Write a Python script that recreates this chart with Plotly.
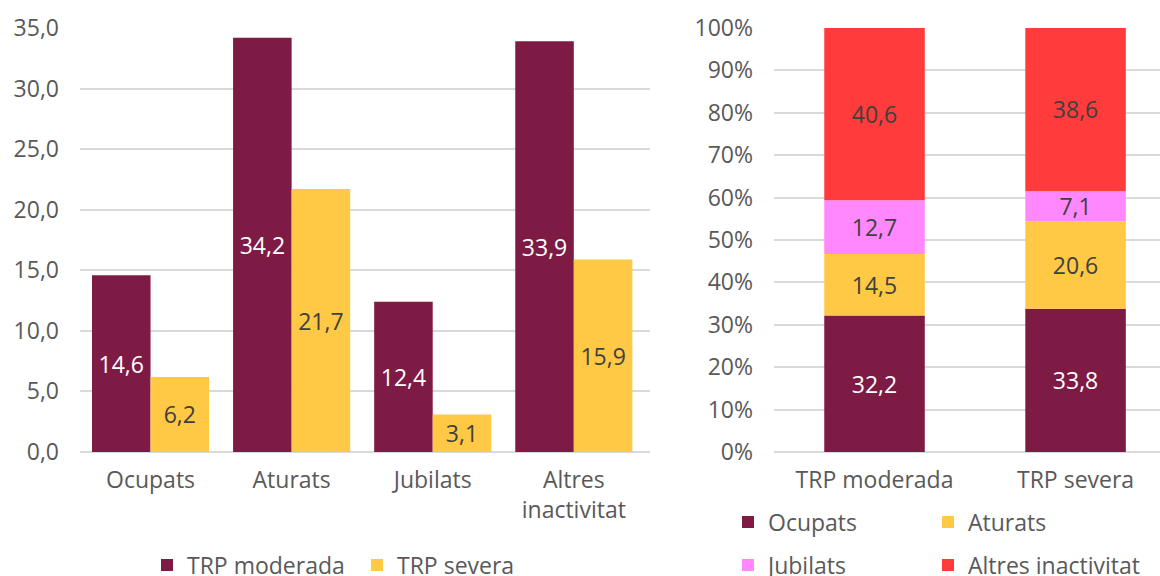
import numpy as np
import plotly.graph_objects as go

# ---- Left chart data ----
categories = ["Ocupats", "Aturats", "Jubilats", "Altres<br>inactivitat"]
trp_moderada = [14.6, 34.2, 12.4, 33.9]
trp_severa = [6.2, 21.7, 3.1, 15.9]

# ---- Right chart data ----
groups = ["TRP moderada", "TRP severa"]
ocupats = [32.2, 33.8]
aturats = [14.5, 20.6]
jubilats = [12.7, 7.1]
altres = [40.6, 38.6]

MAROON = "#7E1B45"
YELLOW = "#FFC945"
PINK = "#FF88FF"
RED = "#FF3B3B"
GREY = "#595959"
DARK = "#404040"
FONT = "Open Sans"
FS = 23

W, H = 1160, 576


def px(x):  # screen x -> paper fraction
    return x / W


def py(y):  # screen y -> paper fraction
    return 1 - y / H


def fmt(vals):
    return [f"{v:.1f}".replace(".", ",") for v in vals]


fig = go.Figure()

# Left grouped bars
fig.add_trace(go.Bar(x=categories, y=trp_moderada, name="TRP moderada",
                     marker=dict(color=MAROON, line=dict(width=0)),
                     text=fmt(trp_moderada), texttemplate="%{text}",
                     textposition="inside", insidetextanchor="middle",
                     textfont=dict(color="white", size=FS, family=FONT),
                     xaxis="x", yaxis="y", legend="legend"))
fig.add_trace(go.Bar(x=categories, y=trp_severa, name="TRP severa",
                     marker=dict(color=YELLOW, line=dict(width=0)),
                     text=fmt(trp_severa), texttemplate="%{text}",
                     textposition="inside", insidetextanchor="middle",
                     textfont=dict(color=DARK, size=FS, family=FONT),
                     xaxis="x", yaxis="y", legend="legend"))

# Right stacked bars (same offsetgroup, base = cumulative sum)
stack = [("Ocupats", ocupats, MAROON, "white", "legend2"),
         ("Aturats", aturats, YELLOW, DARK, "legend3"),
         ("Jubilats", jubilats, PINK, DARK, "legend4"),
         ("Altres inactivitat", altres, RED, DARK, "legend5")]
base = np.zeros(len(groups))
for name, vals, col, tcol, leg in stack:
    fig.add_trace(go.Bar(x=groups, y=vals, base=base.copy(), name=name,
                         offsetgroup="s", width=0.5,
                         marker=dict(color=col, line=dict(width=0)),
                         text=fmt(vals), texttemplate="%{text}",
                         textposition="inside", insidetextanchor="middle",
                         textfont=dict(color=tcol, size=FS, family=FONT),
                         xaxis="x2", yaxis="y2", legend=leg))
    base = base + np.array(vals)

ydom = [py(452), py(28)]
axis_font = dict(family=FONT, size=FS, color=GREY)
leg_common = dict(orientation="h", font=axis_font, bgcolor="rgba(0,0,0,0)",
                  xanchor="left", yanchor="middle", traceorder="normal",
                  itemclick=False)

fig.update_layout(
    width=W, height=H,
    margin=dict(l=0, r=0, t=0, b=0, autoexpand=False),
    paper_bgcolor="white", plot_bgcolor="white",
    font=dict(family=FONT, color=GREY, size=FS),
    separators=", ",
    uniformtext=dict(minsize=FS, mode="show"),
    barmode="group", bargap=0.17, bargroupgap=0,
    showlegend=True,
    xaxis=dict(domain=[px(80), px(650)], anchor="y", range=[-0.5, 3.54],
               showgrid=False, showline=False, ticks="", tickfont=axis_font,
               ticklabelstandoff=12, automargin=False),
    yaxis=dict(domain=ydom, anchor="x", range=[0, 35], dtick=5, tickformat=".1f",
               gridcolor="#D9D9D9", gridwidth=1.5, zeroline=True,
               zerolinecolor="#D9D9D9", zerolinewidth=1.5, showline=False,
               ticks="", tickfont=axis_font, ticklabelstandoff=20,
               automargin=False),
    xaxis2=dict(domain=[px(774), 1.0], anchor="y2", range=[-0.5, 1.42],
                showgrid=False, showline=False, ticks="", tickfont=axis_font,
                ticklabelstandoff=12, automargin=False),
    yaxis2=dict(domain=ydom, anchor="x2", range=[0, 100], dtick=10,
                ticksuffix="%", tickformat="d",
                gridcolor="#D9D9D9", gridwidth=1.5, zeroline=True,
                zerolinecolor="#D9D9D9", zerolinewidth=1.5, showline=False,
                ticks="", tickfont=axis_font, ticklabelstandoff=20,
                automargin=False),
    legend=dict(x=px(147), y=py(565), entrywidth=165, entrywidthmode="pixels",
                **leg_common),
    legend2=dict(x=px(728), y=py(522), **leg_common),
    legend3=dict(x=px(928), y=py(522), **leg_common),
    legend4=dict(x=px(728), y=py(565), **leg_common),
    legend5=dict(x=px(928), y=py(565), **leg_common),
)

# Remove the default 8px page margin so the figure fills the window exactly.
fig.write_html(
    "out.html",
    config={"displayModeBar": False},
    post_script="document.body.style.margin='0';"
                "document.body.style.overflow='hidden';",
)
